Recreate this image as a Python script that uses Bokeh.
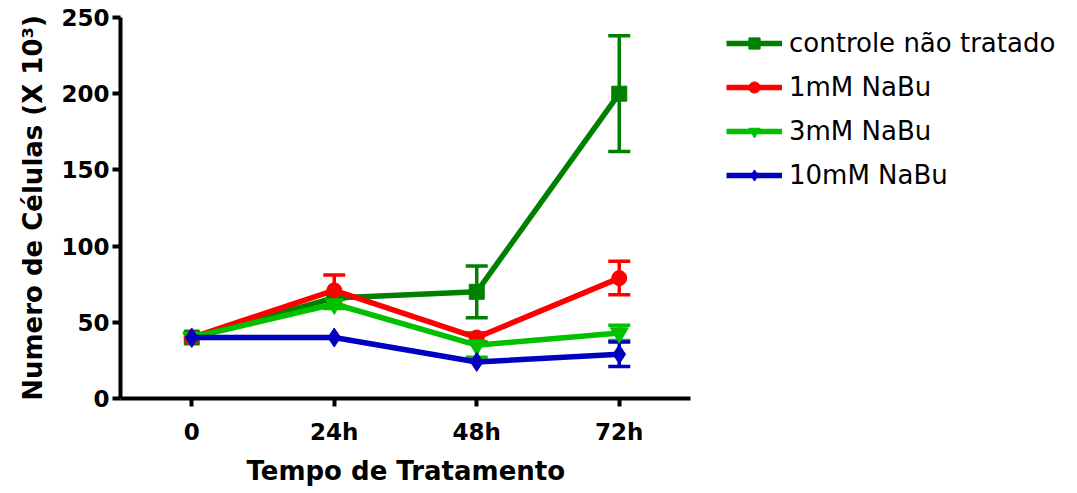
from bokeh.plotting import figure
from bokeh.models import (ColumnDataSource, Whisker, TeeHead, Legend, LegendItem, FixedTicker,
                          Range1d, Title)
from bokeh.embed import file_html
from bokeh.resources import INLINE

times = ["0", "24h", "48h", "72h"]
series_names = ["controle não tratado", "1mM NaBu", "3mM NaBu", "10mM NaBu"]
controle = [40, 66, 70, 200]
controle_err = [0, 0, 17, 38]
nabu1 = [40, 71, 40, 79]
nabu1_err = [0, 10, 3, 11]
nabu3 = [40, 62, 35, 43]
nabu3_err = [0, 3, 8, 5]
nabu10 = [40, 40, 24, 29]
nabu10_err = [0, 0, 0, 8]

colors = ["#008000", "#FF0000", "#00C000", "#0000C0"]
markers = ["square", "circle", "inverted_triangle", "diamond"]
msizes = [15, 15, 18, 19]
values = [controle, nabu1, nabu3, nabu10]
errors = [controle_err, nabu1_err, nabu3_err, nabu10_err]

FONT = "DejaVu Sans"

xpos = list(range(len(times)))
W, H = 1070, 493
left, right, top, bottom = 120, 3, 17, 95
frame_w = W - left - right
unit = (690 - 120) / 4.0  # px per category step on the visible axis
x_end = -0.5 + frame_w / unit

p = figure(width=W, height=H, x_range=Range1d(-0.5, x_end),
           y_range=Range1d(0, 250), output_backend="svg", toolbar_location=None,
           min_border_left=left, min_border_top=top, min_border_right=right,
           min_border_bottom=bottom)
p.outline_line_color = None
p.xgrid.visible = False
p.ygrid.visible = False
p.background_fill_color = "white"

items = []
for name, vals, errs, col, mk, ms in zip(series_names, values, errors, colors, markers, msizes):
    src = ColumnDataSource(dict(x=xpos, y=vals))
    keep = [i for i, e in enumerate(errs) if e > 0]
    esrc = ColumnDataSource(dict(x=[xpos[i] for i in keep],
                                 upper=[vals[i] + errs[i] for i in keep],
                                 lower=[vals[i] - errs[i] for i in keep]))
    w = Whisker(source=esrc, base="x", upper="upper", lower="lower",
                line_color=col, line_width=3.5,
                upper_head=TeeHead(size=22, line_color=col, line_width=3.5),
                lower_head=TeeHead(size=22, line_color=col, line_width=3.5))
    p.add_layout(w)
    l = p.line("x", "y", source=src, line_color=col, line_width=5.5)
    m = p.scatter("x", "y", source=src, marker=mk, size=ms, fill_color=col, line_color=col)
    items.append(LegendItem(label=name, renderers=[l, m]))

legend = Legend(items=items, location=(606, 208), orientation="vertical",
                label_text_font=FONT, label_text_font_size="26px", label_text_color="black",
                glyph_width=56, glyph_height=28, spacing=14, padding=0, margin=0,
                border_line_color=None, background_fill_alpha=0, label_standoff=7)
p.add_layout(legend, "center")

for ax in (p.xaxis[0], p.yaxis[0]):
    ax.axis_line_width = 4
    ax.axis_line_color = "black"
    ax.major_tick_line_width = 4
    ax.major_tick_out = 8
    ax.major_tick_in = 0
    ax.minor_tick_line_color = None
    ax.major_label_text_font = FONT
    ax.major_label_text_font_style = "bold"
    ax.major_label_text_font_size = "23px"
    ax.major_label_text_color = "black"
    ax.axis_label_text_font = FONT
    ax.axis_label_text_font_style = "bold"
    ax.axis_label_text_font_size = "26px"
    ax.axis_label_text_color = "black"

p.yaxis.ticker = FixedTicker(ticks=[0, 50, 100, 150, 200, 250])
p.yaxis.axis_label = "Numero de Células (X 10³)"
p.yaxis.major_label_standoff = 3
p.yaxis.axis_label_standoff = 10

p.xaxis.ticker = FixedTicker(ticks=xpos)
p.xaxis.major_label_overrides = {i: t for i, t in zip(xpos, times)}
p.xaxis.bounds = (-0.5, len(times) - 0.5)
p.xaxis.major_label_standoff = 12
p.xaxis.major_label_text_line_height = 0.9

xtitle = Title(text="Tempo de Tratamento", align="left", offset=126, standoff=13,
               text_font=FONT, text_font_style="bold", text_font_size="26px",
               text_color="black", text_line_height=0.8)
p.add_layout(xtitle, "below")

open("out.html", "w").write(file_html(p, INLINE))
